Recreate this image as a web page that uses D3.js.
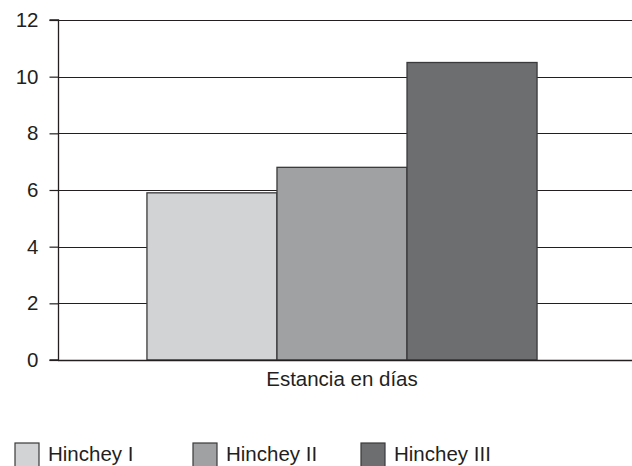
<!DOCTYPE html>
<html>
<head>
<meta charset="utf-8">
<script src="https://cdn.jsdelivr.net/npm/d3@7"></script>
<style>
  html, body { margin: 0; padding: 0; background: #fff; }
  svg { display: block; }
  text { font-family: "Liberation Sans", Arial, sans-serif; fill: #231f20; }
</style>
</head>
<body>
<svg id="chart" width="632" height="466"></svg>
<script>
// Hospital stay (days) by Hinchey stage
const categories = ["Estancia en días"];
const seriesNames = ["Hinchey I", "Hinchey II", "Hinchey III"];
const seriesValues = [5.9, 6.8, 10.5];
const seriesColors = ["#d1d3d4", "#a0a1a3", "#6d6e70"];
const yTicks = [0, 2, 4, 6, 8, 10, 12];

const svg = d3.select("#chart");
const margin = { left: 58, right: 6, top: 20, bottom: 106 };
const W = 632, H = 466;
const plotRight = W - margin.right;
const plotBottom = H - margin.bottom;
const fontSize = 20.5;

const y = d3.scaleLinear().domain([0, 12]).range([plotBottom, margin.top]);
const x0 = d3.scaleBand().domain(categories).range([margin.left, plotRight]).paddingInner(0).paddingOuter(0.228);
const x1 = d3.scaleBand().domain(seriesNames).range([0, x0.bandwidth()]).padding(0);

// gridlines
svg.append("g")
  .selectAll("line")
  .data(yTicks.filter(d => d > 0))
  .join("line")
  .attr("x1", margin.left).attr("x2", W)
  .attr("y1", d => Math.round(y(d)) + 0.5).attr("y2", d => Math.round(y(d)) + 0.5)
  .attr("stroke", "#231f20").attr("stroke-width", 1.2);

// bars
const g = svg.append("g");
categories.forEach(cat => {
  g.selectAll("rect.bar")
    .data(seriesNames.map((s, i) => ({ s, v: seriesValues[i], c: seriesColors[i] })))
    .join("rect")
    .attr("class", "bar")
    .attr("x", d => x0(cat) + x1(d.s))
    .attr("y", d => y(d.v))
    .attr("width", x1.bandwidth())
    .attr("height", d => y(0) - y(d.v))
    .attr("fill", d => d.c)
    .attr("stroke", "#3a3a3c").attr("stroke-width", 1.3);
});

// y axis
const yAxis = d3.axisLeft(y).tickValues(yTicks).tickSize(9).tickPadding(11).tickFormat(d3.format("d"));
const ya = svg.append("g").attr("transform", `translate(${margin.left + 0.5},0)`).call(yAxis);
ya.select(".domain").attr("stroke", "#231f20").attr("stroke-width", 1.3).attr("d", `M-9,${y(12)}H0V${y(0)}H-9`);
ya.selectAll(".tick line").attr("stroke", "#231f20").attr("stroke-width", 1.2);
ya.selectAll(".tick text").attr("font-size", fontSize).attr("fill", "#231f20")
  .style("font-family", "'Liberation Sans', Arial, sans-serif");

// baseline
svg.append("line")
  .attr("x1", margin.left).attr("x2", W)
  .attr("y1", y(0) + 0.5).attr("y2", y(0) + 0.5)
  .attr("stroke", "#231f20").attr("stroke-width", 1.5);

// category label
svg.selectAll("text.cat")
  .data(categories)
  .join("text")
  .attr("class", "cat")
  .attr("x", d => x0(d) + x0.bandwidth() / 2)
  .attr("y", 386)
  .attr("text-anchor", "middle")
  .attr("font-size", fontSize)
  .text(d => d);

// legend
const legendX = [15, 193, 361];
const lg = svg.selectAll("g.leg")
  .data(seriesNames)
  .join("g")
  .attr("class", "leg")
  .attr("transform", (d, i) => `translate(${legendX[i]},443)`);
lg.append("rect")
  .attr("width", 24).attr("height", 24)
  .attr("fill", (d, i) => seriesColors[i])
  .attr("stroke", "#3a3a3c").attr("stroke-width", 1.2);
lg.append("text")
  .attr("x", 33).attr("y", 18)
  .attr("font-size", fontSize)
  .text(d => d);
</script>
</body>
</html>
